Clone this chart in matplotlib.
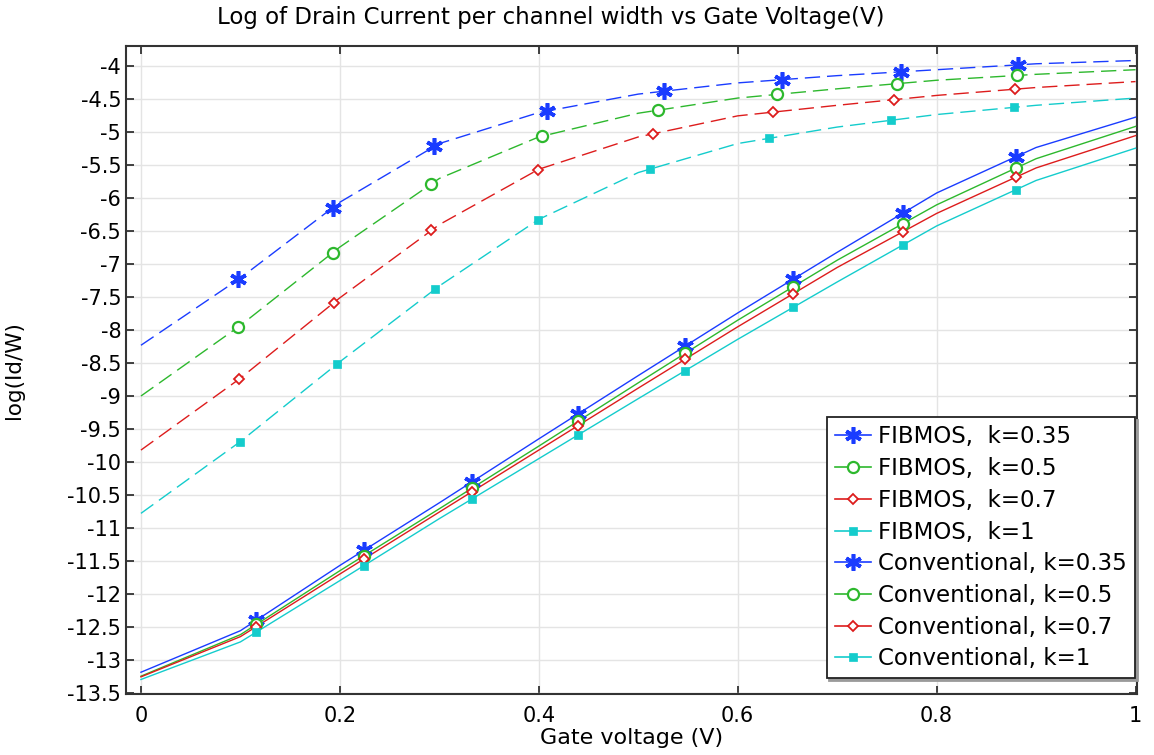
import matplotlib
matplotlib.use("Agg")
import matplotlib.pyplot as plt
from matplotlib.lines import Line2D
import numpy as np

plt.rcParams["axes.unicode_minus"] = False
plt.rcParams["font.family"] = ["DejaVu Sans"]

# gate voltage samples (V)
gate_v = [0.0, 0.1, 0.2, 0.3, 0.4, 0.5, 0.6, 0.7, 0.8, 0.9, 1.0]

# log(Id/W), FIBMOS devices
fib_k035 = [-8.23, -7.21, -6.06, -5.17, -4.70, -4.42, -4.25, -4.14, -4.05, -3.96, -3.91]
fib_k05 = [-9.00, -7.93, -6.74, -5.70, -5.07, -4.71, -4.48, -4.34, -4.21, -4.12, -4.05]
fib_k07 = [-9.82, -8.73, -7.51, -6.40, -5.56, -5.07, -4.75, -4.59, -4.44, -4.32, -4.23]
fib_k1 = [-10.78, -9.69, -8.48, -7.33, -6.32, -5.61, -5.17, -4.92, -4.73, -4.59, -4.48]

# log(Id/W), conventional devices
conv_k035 = [-13.19, -12.56, -11.57, -10.62, -9.65, -8.69, -7.74, -6.82, -5.92, -5.23, -4.77]
conv_k05 = [-13.25, -12.62, -11.65, -10.71, -9.76, -8.80, -7.85, -6.94, -6.10, -5.40, -4.91]
conv_k07 = [-13.26, -12.65, -11.70, -10.76, -9.82, -8.88, -7.95, -7.05, -6.23, -5.54, -5.05]
conv_k1 = [-13.30, -12.73, -11.80, -10.86, -9.95, -9.04, -8.14, -7.27, -6.42, -5.73, -5.24]

# where the markers sit along each curve
fib_mark_k035 = [0.098, 0.193, 0.295, 0.408, 0.526, 0.645, 0.764, 0.882]
fib_mark_k05 = [0.098, 0.193, 0.292, 0.403, 0.520, 0.640, 0.760, 0.881]
fib_mark_k07 = [0.099, 0.194, 0.292, 0.399, 0.515, 0.635, 0.757, 0.879]
fib_mark_k1 = [0.100, 0.197, 0.296, 0.399, 0.512, 0.631, 0.754, 0.878]
conv_mark = [0.116, 0.224, 0.333, 0.439, 0.547, 0.656, 0.766, 0.880]

k_labels = ["k=0.35", "k=0.5", "k=0.7", "k=1"]

colors = ["#1a3cff", "#2db82d", "#dd1c1c", "#14cccc"]
marker_styles = [
    dict(marker=(6, 2, 0), markersize=12, markeredgewidth=2.6, markerfacecolor="none"),
    dict(marker="o", markersize=8, markeredgewidth=1.6, markerfacecolor="white"),
    dict(marker="D", markersize=5.5, markeredgewidth=1.3, markerfacecolor="white"),
    dict(marker="s", markersize=6, markeredgewidth=0.5),
]

fig = plt.figure(figsize=(11.54, 7.55), dpi=100)
ax = fig.add_axes([0.1092, 0.0808, 0.8761, 0.8583])

x = np.array(gate_v)
fib_series = [fib_k035, fib_k05, fib_k07, fib_k1]
fib_marks = [fib_mark_k035, fib_mark_k05, fib_mark_k07, fib_mark_k1]
conv_series = [conv_k035, conv_k05, conv_k07, conv_k1]

handles = []
labels = []
for i, (ys, mx) in enumerate(zip(fib_series, fib_marks)):
    ax.plot(x, ys, color=colors[i], lw=1.0, dashes=(11, 5), zorder=3)
    mx = np.array(mx)
    ax.plot(mx, np.interp(mx, x, ys), ls="none", color=colors[i],
            markeredgecolor=colors[i], zorder=4, **marker_styles[i])
    handles.append(Line2D([], [], color=colors[i], lw=1.2,
                          markeredgecolor=colors[i], **marker_styles[i]))
    labels.append("FIBMOS,  " + k_labels[i])

for i, ys in enumerate(conv_series):
    ax.plot(x, ys, color=colors[i], lw=1.0, zorder=3)
    mx = np.array(conv_mark)
    ax.plot(mx, np.interp(mx, x, ys), ls="none", color=colors[i],
            markeredgecolor=colors[i], zorder=4, **marker_styles[i])
    handles.append(Line2D([], [], color=colors[i], lw=1.2,
                          markeredgecolor=colors[i], **marker_styles[i]))
    labels.append("Conventional, " + k_labels[i])

ax.set_xlim(-0.015, 1.0015)
ax.set_ylim(-13.52, -3.69)
ax.set_xticks([0, 0.2, 0.4, 0.6, 0.8, 1.0])
ax.set_yticks(np.arange(-13.5, -3.9, 0.5))
ax.xaxis.set_major_formatter(matplotlib.ticker.FormatStrFormatter("%g"))
ax.yaxis.set_major_formatter(matplotlib.ticker.FormatStrFormatter("%g"))
ax.tick_params(direction="in", length=6, width=1.2, labelsize=15,
               top=True, right=True, color="#222222")
ax.tick_params(axis="x", pad=9)
ax.grid(True, color="#e4e4e4", lw=1.0, zorder=0)
for sp in ax.spines.values():
    sp.set_linewidth(1.5)
    sp.set_color("#333333")

ax.set_xlabel("Gate voltage (V)", fontsize=16, labelpad=1)
ax.set_ylabel("log(Id/W)", fontsize=15.5, labelpad=31)
fig.text(0.477, 0.977, "Log of Drain Current per channel width vs Gate Voltage(V)",
         ha="center", va="center", fontsize=16.5)

leg = ax.legend(handles, labels, loc="lower right", bbox_to_anchor=(0.998, 0.024),
                fontsize=16.5, frameon=True, fancybox=False, framealpha=1,
                edgecolor="#222222", handlelength=1.6, handletextpad=0.3,
                labelspacing=0.38, borderpad=0.35, borderaxespad=0,
                shadow={"color": "#9a9a9a", "alpha": 1})
leg.get_frame().set_linewidth(1.3)

fig.savefig("out.png", dpi=100)
